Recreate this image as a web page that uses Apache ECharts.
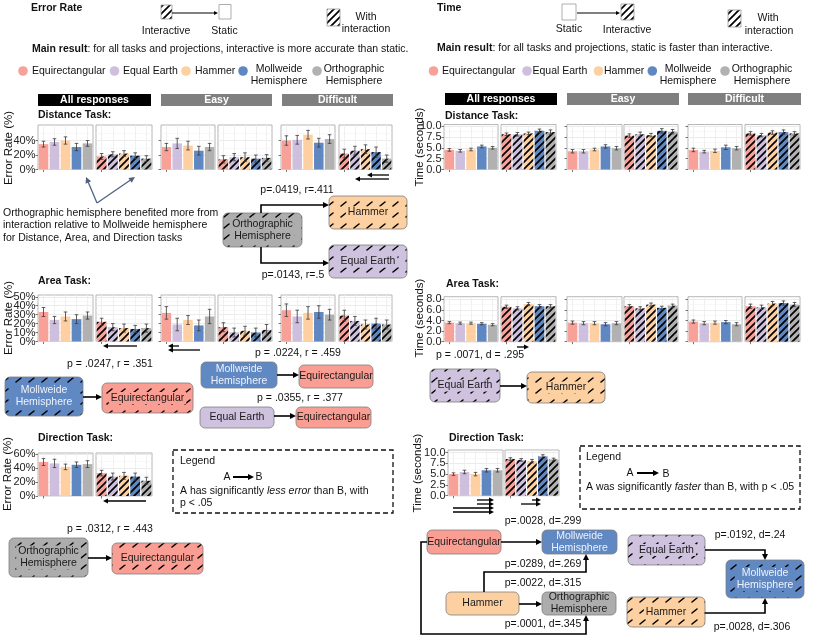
<!DOCTYPE html>
<html><head><meta charset="utf-8">
<script src="https://cdn.jsdelivr.net/npm/echarts@6/dist/echarts.min.js"></script>
<style>html,body{margin:0;padding:0;background:#fff}#c{width:830px;height:642px}</style>
</head><body><div id="c"></div>
<script>
// ---------------- DATA ----------------
const categories = ['Equirectangular', 'Equal Earth', 'Hammer', 'Mollweide Hemisphere', 'Orthographic Hemisphere'];
const groups = ['All responses', 'Easy', 'Difficult'];

// Error rate (%), static (S) and interactive (I); *Ci = error-bar half width
const errDistAllS = [35, 38, 40, 31, 36];   const errDistAllSCi = [4, 4.5, 5, 5, 4];
const errDistAllI = [18, 21, 22, 19, 15];   const errDistAllICi = [4, 3.5, 4, 4, 4];
const errDistEasyS = [31, 36, 33, 26, 31];  const errDistEasySCi = [5, 7, 6, 6, 5];
const errDistEasyI = [14, 17, 17, 15, 16];  const errDistEasyICi = [5, 5, 6, 5, 4.5];
const errDistDiffS = [40, 41, 48, 37, 42];  const errDistDiffSCi = [6.5, 6, 6, 6, 6];
const errDistDiffI = [22, 26, 28, 24, 15];  const errDistDiffICi = [6, 6, 6, 7, 5];

const errAreaAllS = [33, 24, 28, 25, 29];   const errAreaAllSCi = [5, 4, 5, 5, 4];
const errAreaAllI = [22, 16, 15, 14, 15];   const errAreaAllICi = [4, 4, 4.5, 4, 4.5];
const errAreaEasyS = [32, 19, 24, 18, 28];  const errAreaEasySCi = [7, 7, 5, 6, 8];
const errAreaEasyI = [16, 10, 12, 10, 13];  const errAreaEasyICi = [5, 5, 5, 5, 6];
const errAreaDiffS = [35, 28, 32, 33, 30];  const errAreaDiffSCi = [7, 7, 7, 7, 6];
const errAreaDiffI = [29, 23, 19, 20, 19];  const errAreaDiffICi = [6, 5, 5, 6, 5];

const errDirAllS = [49, 47, 42, 45, 46];    const errDirAllSCi = [5, 6, 4, 4, 5];
const errDirAllI = [33, 28, 29, 28, 22];    const errDirAllICi = [4, 5, 5, 5, 5];

// Time (seconds)
const timeDistAllS = [4.5, 4.3, 4.6, 5.3, 5.0];  const timeDistAllSCi = [0.3, 0.3, 0.3, 0.3, 0.3];
const timeDistAllI = [8.1, 8.1, 8.3, 8.9, 8.6];  const timeDistAllICi = [0.3, 0.4, 0.3, 0.4, 0.5];
const timeDistEasyS = [4.2, 4.2, 4.6, 5.3, 4.9]; const timeDistEasySCi = [0.4, 0.4, 0.3, 0.4, 0.4];
const timeDistEasyI = [7.8, 8.1, 7.9, 8.9, 8.7]; const timeDistEasyICi = [0.4, 0.5, 0.4, 0.5, 0.5];
const timeDistDiffS = [4.5, 4.1, 4.3, 5.1, 4.9]; const timeDistDiffSCi = [0.4, 0.3, 0.4, 0.5, 0.4];
const timeDistDiffI = [8.3, 7.9, 8.5, 8.6, 8.3]; const timeDistDiffICi = [0.4, 0.4, 0.4, 0.5, 0.4];

const timeAreaAllS = [3.6, 3.5, 3.5, 3.4, 3.2];  const timeAreaAllSCi = [0.2, 0.2, 0.2, 0.2, 0.2];
const timeAreaAllI = [6.6, 6.3, 7.1, 6.7, 6.7];  const timeAreaAllICi = [0.3, 0.3, 0.3, 0.3, 0.3];
const timeAreaEasyS = [3.6, 3.5, 3.5, 3.3, 3.5]; const timeAreaEasySCi = [0.3, 0.3, 0.3, 0.3, 0.3];
const timeAreaEasyI = [6.7, 6.3, 7.0, 6.4, 6.8]; const timeAreaEasyICi = [0.3, 0.3, 0.3, 0.3, 0.3];
const timeAreaDiffS = [3.8, 3.5, 3.6, 3.7, 3.3]; const timeAreaDiffSCi = [0.3, 0.3, 0.3, 0.3, 0.3];
const timeAreaDiffI = [6.7, 6.5, 7.2, 7.3, 7.0]; const timeAreaDiffICi = [0.4, 0.4, 0.4, 0.4, 0.4];

const timeDirAllS = [5.0, 5.5, 5.0, 5.9, 5.9];   const timeDirAllSCi = [0.3, 0.4, 0.4, 0.4, 0.4];
const timeDirAllI = [8.5, 8.3, 8.0, 9.1, 8.4];   const timeDirAllICi = [0.3, 0.3, 0.4, 0.4, 0.3];

// tick labels
const errTicksDist = [0, 20, 40];
const errTicksArea = [0, 10, 20, 30, 40, 50];
const errTicksDir = [0, 20, 40, 60];
const timeTicksDist = [0, 2.5, 5, 7.5, 10];
const timeTicksArea = [0, 2, 4, 6, 8];
const timeTicksDir = [0, 2.5, 5, 7.5, 10];

// ---------------- STYLE ----------------
const FONT = '"Liberation Sans", Arial, Helvetica, sans-serif';
const NARROW = '"Liberation Sans Narrow", "Liberation Sans", Arial, sans-serif';
const colors = ['#f8a199', '#cdbfdd', '#fdcfa1', '#5f87c1', '#b1b1b1'];
const boxColors = ['#fa9e93', '#cfc2df', '#fdd0a2', '#6088c2', '#adadad'];

function hatchCanvas(bg, kind) {
  const c = document.createElement('canvas');
  if (kind === 'bar') {
    const s = 7; c.width = s; c.height = s;
    const x = c.getContext('2d');
    x.fillStyle = bg; x.fillRect(0, 0, s, s);
    x.strokeStyle = '#000'; x.lineWidth = 1.7; x.lineCap = 'butt';
    x.beginPath();
    x.moveTo(-1, s + 1); x.lineTo(s + 1, -1);
    x.moveTo(-1, 1); x.lineTo(1, -1);
    x.moveTo(s - 1, s + 1); x.lineTo(s + 1, s - 1);
    x.stroke();
  } else {
    c.width = 13; c.height = 11;
    const x = c.getContext('2d');
    x.fillStyle = bg; x.fillRect(0, 0, 13, 11);
    x.strokeStyle = '#000'; x.lineWidth = 1.6; x.lineCap = 'round';
    x.beginPath(); x.moveTo(3, 8); x.lineTo(8, 4); x.stroke();
  }
  return c;
}
const barPat = colors.map(c => ({ image: hatchCanvas(c, 'bar'), repeat: 'repeat' }));
const boxPat = boxColors.map(c => ({ image: hatchCanvas(c, 'box'), repeat: 'repeat' }));
const iconPat = { image: hatchCanvas('#ffffff', 'bar'), repeat: 'repeat' };

// ---------------- PANELS ----------------
const rows = {
  Ld: { top: 125, bottom: 169.5, max: 61.4, interval: 20, ticks: errTicksDist, fmt: v => v + '%', font: FONT },
  La: { top: 295, bottom: 341.5, max: 52, interval: 10, ticks: errTicksArea, fmt: v => v + '%', font: FONT },
  Lr: { top: 453, bottom: 496, max: 62, interval: 20, ticks: errTicksDir, fmt: v => v + '%', font: FONT },
  Rd: { top: 124.5, bottom: 169.5, max: 10.35, interval: 2.5, ticks: timeTicksDist, fmt: v => v.toFixed(1), font: NARROW },
  Ra: { top: 296.7, bottom: 341.7, max: 8.5, interval: 2, ticks: timeTicksArea, fmt: v => v.toFixed(1), font: NARROW },
  Rr: { top: 450, bottom: 495.7, max: 10.6, interval: 2.5, ticks: timeTicksDir, fmt: v => v.toFixed(1), font: NARROW }
};
const LX = [[38, 93], [96, 152], [161, 215], [218, 272], [281, 335], [339, 392]];
const RX = [[444, 498], [501, 556], [567, 622], [624, 678], [688, 742], [745, 800]];
const LXd = [[38, 93], [96, 152]];
const RXd = [[448, 503], [505, 559]];

const panels = [];
function addRow(row, xs, sets) {
  sets.forEach((s, k) => panels.push({ row, x0: xs[k][0], x1: xs[k][1], vals: s[0], err: s[1], inter: k % 2 === 1, first: k === 0 }));
}
addRow('Ld', LX, [[errDistAllS, errDistAllSCi], [errDistAllI, errDistAllICi], [errDistEasyS, errDistEasySCi], [errDistEasyI, errDistEasyICi], [errDistDiffS, errDistDiffSCi], [errDistDiffI, errDistDiffICi]]);
addRow('La', LX, [[errAreaAllS, errAreaAllSCi], [errAreaAllI, errAreaAllICi], [errAreaEasyS, errAreaEasySCi], [errAreaEasyI, errAreaEasyICi], [errAreaDiffS, errAreaDiffSCi], [errAreaDiffI, errAreaDiffICi]]);
addRow('Lr', LXd, [[errDirAllS, errDirAllSCi], [errDirAllI, errDirAllICi]]);
addRow('Rd', RX, [[timeDistAllS, timeDistAllSCi], [timeDistAllI, timeDistAllICi], [timeDistEasyS, timeDistEasySCi], [timeDistEasyI, timeDistEasyICi], [timeDistDiffS, timeDistDiffSCi], [timeDistDiffI, timeDistDiffICi]]);
addRow('Ra', RX, [[timeAreaAllS, timeAreaAllSCi], [timeAreaAllI, timeAreaAllICi], [timeAreaEasyS, timeAreaEasySCi], [timeAreaEasyI, timeAreaEasyICi], [timeAreaDiffS, timeAreaDiffSCi], [timeAreaDiffI, timeAreaDiffICi]]);
addRow('Rr', RXd, [[timeDirAllS, timeDirAllSCi], [timeDirAllI, timeDirAllICi]]);

function errRender(params, api) {
  const i = api.value(0), v = api.value(1), e = api.value(2);
  const t = api.coord([i, v + e]), b = api.coord([i, v - e]);
  const w = 1.8, st = { stroke: '#3a3a3a', lineWidth: 0.8 };
  return { type: 'group', children: [
    { type: 'line', shape: { x1: t[0], y1: t[1], x2: b[0], y2: b[1] }, style: st },
    { type: 'line', shape: { x1: t[0] - w, y1: t[1], x2: t[0] + w, y2: t[1] }, style: st },
    { type: 'line', shape: { x1: b[0] - w, y1: b[1], x2: b[0] + w, y2: b[1] }, style: st }
  ] };
}

const option = { animation: false, backgroundColor: '#fff', grid: [], xAxis: [], yAxis: [], series: [] };
panels.forEach((p, i) => {
  const r = rows[p.row];
  option.grid.push({ left: p.x0, top: r.top, width: p.x1 - p.x0, height: r.bottom - r.top, show: true,
    backgroundColor: '#fff', borderColor: '#a3a3a3', borderWidth: 0.8, containLabel: false, outerBoundsMode: 'none' });
  option.xAxis.push({ type: 'category', gridIndex: i, data: categories, boundaryGap: true,
    axisLine: { show: false }, axisLabel: { show: false }, splitLine: { show: false },
    axisTick: { show: true, alignWithLabel: true, length: 2.5, lineStyle: { color: '#555', width: 0.8 } } });
  option.yAxis.push({ type: 'value', gridIndex: i, min: 0, max: r.max, interval: r.interval,
    axisLine: { show: false },
    axisTick: { show: !p.inter, customValues: r.ticks, length: 2.5, lineStyle: { color: '#555', width: 0.8 } },
    axisLabel: { show: false },
    splitLine: { show: true, lineStyle: { color: '#e6e6e6', width: 0.8 } },
    minorTick: { show: false, splitNumber: 2 },
    minorSplitLine: { show: true, lineStyle: { color: '#f3f3f3', width: 0.6 } } });
  option.series.push({ type: 'bar', xAxisIndex: i, yAxisIndex: i, barCategoryGap: '12%', z: 2,
    data: p.vals.map((v, j) => ({ value: v, itemStyle: { color: p.inter ? barPat[j] : colors[j] } })),
    markLine: { silent: true, symbol: 'none', z: 1, label: { show: false }, animation: false,
      lineStyle: { color: '#ececec', width: 0.8, type: 'solid' }, data: categories.map(c => ({ xAxis: c })) } });
  option.series.push({ type: 'custom', xAxisIndex: i, yAxisIndex: i, z: 5, renderItem: errRender,
    encode: { x: 0, y: 1 }, data: p.vals.map((v, j) => [j, v, p.err[j]]) });
});
// label axes: same scale as the panel's axis, extended one interval below 0 so that
// the automatic min/max label clash check never removes a real tick label
panels.filter(p => p.first).forEach(p => {
  const r = rows[p.row];
  const gi = option.grid.length;
  const h = (r.bottom - r.top) * (r.max + r.interval) / r.max;
  option.grid.push({ left: p.x0, top: r.top, width: p.x1 - p.x0, height: h, show: false, containLabel: false, outerBoundsMode: 'none' });
  option.xAxis.push({ type: 'category', gridIndex: gi, data: categories, show: false });
  option.yAxis.push({ type: 'value', gridIndex: gi, min: -r.interval, max: r.max, interval: r.interval,
    axisLine: { show: false }, axisTick: { show: false }, splitLine: { show: false },
    axisLabel: { show: true, showMinLabel: false, showMaxLabel: false, hideOverlap: false,
      margin: 2.5, fontSize: 11, color: '#222', fontFamily: r.font,
      formatter: v => r.ticks.some(t => Math.abs(t - v) < 1e-6) ? r.fmt(v) : '' } });
});

// ---------------- ANNOTATIONS ----------------
const G = [];
function T(x, y, text, o = {}) {
  const al = o.align || 'left';
  const st = { text, x: 0, y: 0, fill: o.color || '#111', fontSize: o.size || 10.5, fontFamily: o.font || FONT,
    fontWeight: o.bold ? 'bold' : 'normal', fontStyle: o.italic ? 'italic' : 'normal',
    align: al, textAlign: al, verticalAlign: 'middle', textVerticalAlign: 'middle', lineHeight: o.lh || 12 };
  if (o.rich) st.rich = o.rich;
  if (o.bg) { st.backgroundColor = o.bg; st.padding = [0, 2]; }
  G.push({ type: 'text', x, y, rotation: o.rot || 0, silent: true, z: 20, style: st });
}
function R(x, y, w, h, fill, o = {}) {
  G.push({ type: 'rect', silent: true, z: o.z || 10, shape: { x, y, width: w, height: h, r: o.r || 0 },
    style: { fill, stroke: o.stroke || null, lineWidth: o.lw || 0.8, lineDash: o.dash || null } });
}
function A(points, o = {}) {
  const color = o.color || '#000', lw = o.lw || 1.6, hl = o.hl || 6, hw = o.hw || 3;
  const n = points.length; const [x2, y2] = points[n - 1], [x1, y1] = points[n - 2];
  const dx = x2 - x1, dy = y2 - y1, L = Math.hypot(dx, dy), ux = dx / L, uy = dy / L;
  const bx = x2 - ux * hl, by = y2 - uy * hl;
  G.push({ type: 'polyline', silent: true, z: 12, shape: { points: points.slice(0, n - 1).concat([[bx + ux, by + uy]]) },
    style: { stroke: color, lineWidth: lw, fill: null } });
  G.push({ type: 'polygon', silent: true, z: 12, shape: { points: [[x2, y2], [bx - uy * hw, by + ux * hw], [bx + uy * hw, by - ux * hw]] },
    style: { fill: color } });
}
function B(x, y, w, h, ci, hatched, label, white) {
  R(x, y, w, h, hatched ? boxPat[ci] : boxColors[ci], { r: 5, stroke: '#7d7d7d' });
  T(x + w / 2, y + h / 2, label, { align: 'center', color: white ? '#eef2fa' : '#1a1a1a', bg: hatched ? boxColors[ci] : null });
}
const richB = { b: { fontWeight: 'bold', fontSize: 10.5, fontFamily: FONT, fill: '#111', color: '#111' } };
const richI = { i: { fontStyle: 'italic', fontSize: 10.5, fontFamily: FONT, fill: '#111', color: '#111' } };

function legendRow(xs, texts, y) {
  categories.forEach((c, i) => {
    G.push({ type: 'circle', silent: true, z: 10, shape: { cx: xs[i], cy: y, r: 4.8 }, style: { fill: colors[i] } });
  });
  T(texts[0], y, categories[0]);
  T(texts[1], y, categories[1]);
  T(texts[2], y, categories[2]);
  T(texts[3], y + 4, 'Mollweide\nHemisphere', { align: 'center' });
  T(texts[4], y + 4, 'Orthographic\nHemisphere', { align: 'center' });
}
function headers(xs, y) {
  groups.forEach((g, i) => {
    R(xs[i][0], y, xs[i][1] - xs[i][0], 12, i === 0 ? '#000' : '#7f7f7f');
    T((xs[i][0] + xs[i][1]) / 2, y + 6, g, { align: 'center', bold: true, color: '#fff' });
  });
}

// ---- Left: Error Rate ----
T(31, 8, 'Error Rate', { bold: true });
R(161, 5, 11, 14, iconPat, { stroke: '#999' });
A([[172, 13], [218, 13]], { lw: 1, hl: 4, hw: 2 });
R(219, 4.5, 12, 14.5, '#fff', { stroke: '#999' });
T(166, 31, 'Interactive', { align: 'center' });
T(224.5, 31, 'Static', { align: 'center' });
R(327, 9, 13, 17, iconPat, { stroke: '#999' });
T(366, 17, 'With', { align: 'center' });
T(366, 29, 'interaction', { align: 'center' });
T(32, 49, '{b|Main result}: for all tasks and projections, interactive is more accurate than static.', { rich: richB });
legendRow([23, 114.5, 186, 243, 317], [32, 123, 195, 279, 354], 71);
headers([[38, 151], [161, 272], [282, 393]], 94);
T(38, 115, 'Distance Task:', { bold: true });
T(38, 281, 'Area Task:', { bold: true });
T(38, 438, 'Direction Task:', { bold: true });
T(9, 148, 'Error Rate (%)', { align: 'center', rot: Math.PI / 2, size: 11.5 });
T(9, 318, 'Error Rate (%)', { align: 'center', rot: Math.PI / 2, size: 11.5 });
T(8, 474, 'Error Rate (%)', { align: 'center', rot: Math.PI / 2, size: 11.5 });

const sig = { lw: 1.3, hl: 5, hw: 2.5 };
A([[389, 175], [367, 175]], sig);
A([[389, 179], [355, 179]], sig);
A([[137, 346], [103, 346]], sig);
A([[179, 346], [168, 346]], sig);
A([[200, 350], [168, 350]], sig);
A([[146, 501], [103, 501]], sig);

const slate = { color: '#4e6382', lw: 1.3, hl: 6, hw: 3 };
A([[97, 203], [86, 177]], slate);
A([[97, 203], [135, 177]], slate);
T(3, 213, 'Orthographic hemisphere benefited more from');
T(3, 225.5, 'interaction relative to Mollweide hemisphere');
T(3, 238, 'for Distance, Area, and Direction tasks');

T(297, 190, 'p=.0419, r=.411', { align: 'center' });
A([[261, 213], [261, 205], [329, 205]], { lw: 1.6, hl: 6, hw: 3 });
A([[261, 247], [261, 263], [329, 263]], { lw: 1.6, hl: 6, hw: 3 });
B(223, 213, 79, 34, 4, true, 'Orthographic\nHemisphere');
B(329, 196, 78, 33, 2, true, 'Hammer');
B(329, 245, 78, 33, 1, true, 'Equal Earth');
T(293, 275, 'p=.0143, r=.5', { align: 'center' });

T(298, 353, 'p = .0224, r = .459', { align: 'center' });
T(110, 364, 'p = .0247, r = .351', { align: 'center' });
B(5, 377, 78, 39, 3, true, 'Mollweide\nHemisphere', true);
A([[83, 397], [102, 397]]);
B(102, 383, 91, 30, 0, true, 'Equirectangular');
B(201, 362, 76, 26, 3, false, 'Mollweide\nHemisphere', true);
A([[277, 375], [299, 375]]);
B(299, 365, 74, 23, 0, false, 'Equirectangular');
T(300, 398, 'p = .0355, r = .377', { align: 'center' });
B(200, 407, 74, 21, 1, false, 'Equal Earth');
A([[274, 416], [296, 416]]);
B(296, 407, 75, 21, 0, false, 'Equirectangular');

R(173, 450, 220, 63, null, { stroke: '#111', lw: 1.3, dash: [5, 3] });
T(180, 461, 'Legend');
T(227, 477, 'A', { align: 'center' });
A([[233, 477], [254, 477]], { lw: 2, hl: 6, hw: 3 });
T(259, 477, 'B', { align: 'center' });
T(180, 491, 'A has significantly {i|less error} than B, with', { rich: richI });
T(180, 503, 'p < .05');
T(110, 529, 'p = .0312, r = .443', { align: 'center' });
B(9, 538, 79, 39, 4, true, 'Orthographic\nHemisphere');
A([[88, 558], [112, 558]]);
B(112, 543, 91, 31, 0, true, 'Equirectangular');

// ---- Right: Time ----
T(437, 8, 'Time', { bold: true });
R(562, 4, 14, 16, '#fff', { stroke: '#999' });
A([[577, 13], [620, 13]], { lw: 1, hl: 4, hw: 2 });
R(621, 4, 13, 16, iconPat, { stroke: '#999' });
T(569, 29, 'Static', { align: 'center' });
T(627, 30, 'Interactive', { align: 'center' });
R(728, 10, 13, 17, iconPat, { stroke: '#999' });
T(768, 18, 'With', { align: 'center' });
T(769, 31, 'interaction', { align: 'center' });
T(437, 48, '{b|Main result}: for all tasks and projections, static is faster than interactive.', { rich: richB });
legendRow([433.5, 527, 598.5, 652.3, 725], [442, 532.5, 604, 688, 762], 71);
headers([[445, 557], [567, 679], [688, 801]], 93);
T(445, 116, 'Distance Task:', { bold: true });
T(446, 284, 'Area Task:', { bold: true });
T(449, 438, 'Direction Task:', { bold: true });
T(420, 147, 'Time (seconds)', { align: 'center', rot: Math.PI / 2, size: 11.5 });
T(420, 318, 'Time (seconds)', { align: 'center', rot: Math.PI / 2, size: 11.5 });
T(418, 473, 'Time (seconds)', { align: 'center', rot: Math.PI / 2, size: 11.5 });

A([[517, 347], [529, 347]], sig);
A([[477, 500], [494, 500]], sig);
A([[477, 504], [494, 504]], sig);
A([[453, 508], [494, 508]], sig);
A([[453, 512], [494, 512]], sig);
A([[532, 500], [541, 500]], sig);
A([[521, 504], [541, 504]], sig);

T(480, 355, 'p = .0071, d = .295', { align: 'center' });
B(430, 369, 70, 33, 1, true, 'Equal Earth');
A([[500, 386], [527, 386]]);
B(527, 372, 78, 31, 2, true, 'Hammer');

R(580, 446, 220, 63, null, { stroke: '#111', lw: 1.3, dash: [5, 3] });
T(586, 457, 'Legend');
T(630, 473, 'A', { align: 'center' });
A([[637, 473], [659, 473]], { lw: 2, hl: 6, hw: 3 });
T(666, 474, 'B', { align: 'center' });
T(586, 487, 'A was significantly {i|faster} than B, with p < .05', { rich: richI });

T(543, 521, 'p=.0028, d=.299', { align: 'center' });
A([[501, 542], [542, 542]]);
T(543, 564, 'p=.0289, d=.269', { align: 'center' });
A([[484, 592], [484, 572], [586, 572], [586, 554]]);
T(543, 583, 'p=.0022, d=.315', { align: 'center' });
A([[519, 604], [542, 604]]);
T(543, 624, 'p=.0001, d=.345', { align: 'center' });
A([[427, 542], [421, 542], [421, 634], [586, 634], [586, 615]]);
B(427, 530, 74, 24, 0, false, 'Equirectangular');
B(542, 530, 75, 24, 3, false, 'Mollweide\nHemisphere', true);
B(446, 592, 73, 23, 2, false, 'Hammer');
B(542, 592, 74, 23, 4, false, 'Orthographic\nHemisphere');

T(750, 535, 'p=.0192, d=.24', { align: 'center' });
A([[705, 550], [765, 550], [765, 560]]);
A([[705, 613], [765, 613], [765, 598]]);
B(628, 535, 77, 30, 1, true, 'Equal Earth');
B(726, 560, 78, 38, 3, true, 'Mollweide\nHemisphere', true);
B(627, 597, 78, 30, 2, true, 'Hammer');
T(752, 627, 'p=.0028, d=.306', { align: 'center' });

option.graphic = { elements: G };
const chart = echarts.init(document.getElementById('c'), null, { renderer: 'canvas' });
chart.setOption(option);
</script></body></html>
